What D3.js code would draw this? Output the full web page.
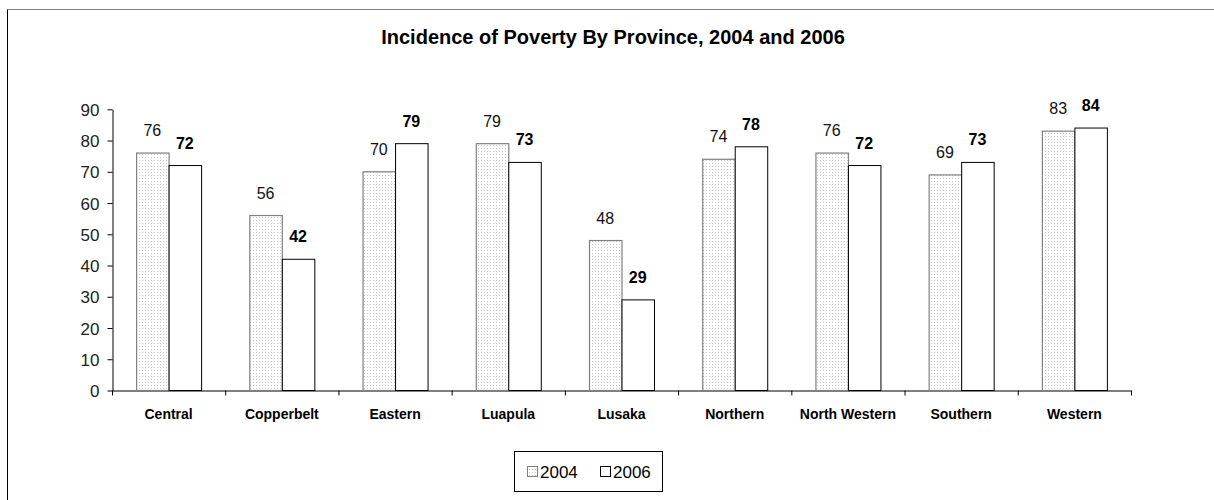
<!DOCTYPE html>
<html><head><meta charset="utf-8">
<script src="https://cdn.jsdelivr.net/npm/d3@7"></script>
<style>body{margin:0;background:#fff}svg{display:block}</style>
</head><body>
<svg id="c" width="1214" height="500"></svg>
<script>
const categories = ["Central","Copperbelt","Eastern","Luapula","Lusaka","Northern","North Western","Southern","Western"];
const values2004 = [76,56,70,79,48,74,76,69,83];
const values2006 = [72,42,79,73,29,78,72,73,84];
const seriesNames = ["2004","2006"];
const yTicks = [0,10,20,30,40,50,60,70,80,90];
const title = "Incidence of Poverty By Province, 2004 and 2006";

const svg = d3.select("#c");
const font = "Arial, 'Liberation Sans', sans-serif";

// outer frame (only top & left visible)
svg.append("line").attr("x1",7.5).attr("x2",1214).attr("y1",9.5).attr("y2",9.5).attr("stroke","#808080");
svg.append("line").attr("x1",7.5).attr("x2",7.5).attr("y1",9.5).attr("y2",500).attr("stroke","#000");

const defs = svg.append("defs");
const pat = defs.append("pattern").attr("id","dots").attr("patternUnits","userSpaceOnUse").attr("width",3).attr("height",3);
pat.append("rect").attr("width",3).attr("height",3).attr("fill","#fff");
pat.append("rect").attr("x",1).attr("y",1).attr("width",1).attr("height",1).attr("fill","#c8c8c8");

const x0 = d3.scaleBand().domain(categories).range([112,1131]).paddingInner(0).paddingOuter(0);
const y = d3.scaleLinear().domain([0,90]).range([390.5,109.3]);
const barW = 32.5;

svg.append("text").attr("x",613).attr("y",44).attr("text-anchor","middle")
  .attr("font-family",font).attr("font-weight","bold").attr("font-size",20).attr("fill","#000").text(title);

// y axis
const yAxis = svg.append("g").attr("transform","translate(112.5,0)")
  .call(d3.axisLeft(y).tickValues(yTicks).tickSize(5).tickSizeOuter(0).tickFormat(d3.format("d")));
yAxis.select(".domain").attr("stroke","#000");
yAxis.selectAll(".tick line").attr("stroke","#000");
yAxis.selectAll("text").attr("font-family",font).attr("font-size",17).attr("fill","#222").attr("x",-13).attr("dy","0.36em");

// x axis
const xAxis = svg.append("g").attr("transform",`translate(0,${y(0)})`)
  .call(d3.axisBottom(x0).tickSize(0).tickSizeOuter(0));
xAxis.select(".domain").attr("stroke","#000");
xAxis.selectAll(".tick text").attr("font-family",font).attr("font-size",14).attr("font-weight","bold").attr("fill","#000").attr("dy","0").attr("y",28);
// category separators
const bounds = categories.map((c,i)=>x0(c)).concat([x0.range()[1]]);
svg.append("g").selectAll("line").data(bounds).join("line")
  .attr("x1",d=>d+0.5).attr("x2",d=>d+0.5).attr("y1",y(0)).attr("y2",y(0)+5).attr("stroke","#000");

// bars
const g = svg.append("g");
categories.forEach((c,i)=>{
  const cx = x0(c)+x0.bandwidth()/2;
  const v1 = values2004[i], v2 = values2006[i];
  g.append("rect").attr("x",cx-barW+0.5).attr("y",y(v1)).attr("width",barW).attr("height",y(0)-y(v1))
    .attr("fill","url(#dots)").attr("stroke","#808080").attr("stroke-width",1.2);
  g.append("rect").attr("x",cx+0.5).attr("y",y(v2)).attr("width",barW).attr("height",y(0)-y(v2))
    .attr("fill","#fff").attr("stroke","#000").attr("stroke-width",1);
  g.append("text").attr("x",cx-barW/2).attr("y",y(v1)-17).attr("text-anchor","middle")
    .attr("font-family",font).attr("font-size",16).attr("fill","#111").text(v1);
  g.append("text").attr("x",cx+barW/2).attr("y",y(v2)-17).attr("text-anchor","middle")
    .attr("font-family",font).attr("font-size",16).attr("font-weight","bold").attr("fill","#000").text(v2);
});

// legend
const lg = svg.append("g");
lg.append("rect").attr("x",514.5).attr("y",451.5).attr("width",148).attr("height",40).attr("fill","#fff").attr("stroke","#000");
const items = [{n:seriesNames[0],fill:"url(#dots)",stroke:"#808080",x:527},{n:seriesNames[1],fill:"#fff",stroke:"#000",x:600}];
items.forEach(it=>{
  lg.append("rect").attr("x",it.x+0.5).attr("y",466.5).attr("width",10).attr("height",10).attr("fill",it.fill).attr("stroke",it.stroke);
  lg.append("text").attr("x",it.x+13).attr("y",478).attr("font-family",font).attr("font-size",17).attr("fill","#000").text(it.n);
});
</script>
</body></html>
